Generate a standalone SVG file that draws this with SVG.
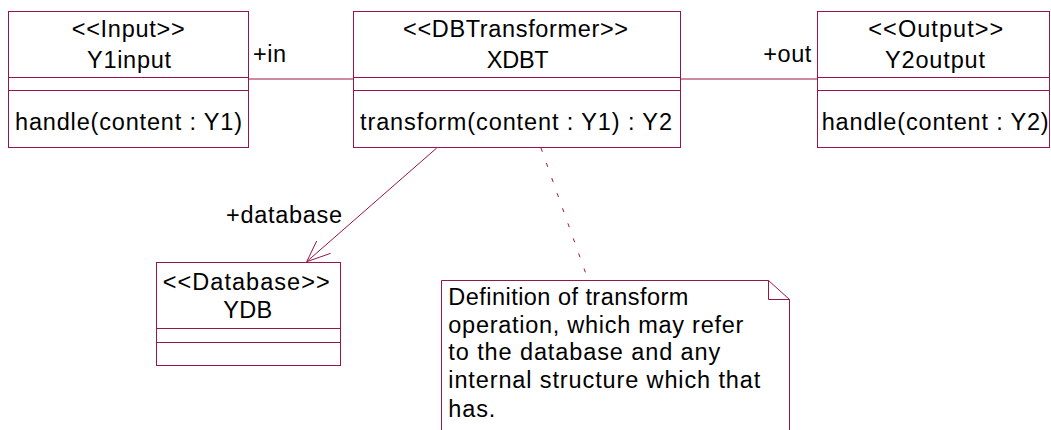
<svg xmlns="http://www.w3.org/2000/svg" width="1051" height="430" viewBox="0 0 1051 430">
<style>
.box{fill:#fff;stroke:#9a1545;stroke-width:1}
.ln{fill:none;stroke:#9a1545;stroke-width:1}
.dash{fill:none;stroke:#9a1545;stroke-width:1;stroke-dasharray:4 12}
text{font-family:"Liberation Sans",Arial,sans-serif;font-size:23.5px;fill:#000}
</style>
<rect width="1051" height="430" fill="#fff"/>
<g id="connectors">
<line class="ln" x1="248.5" y1="79" x2="353.5" y2="79"/>
<line class="ln" x1="680.5" y1="79" x2="817.5" y2="79"/>
<line class="ln" x1="436.7" y1="148" x2="306.7" y2="261.7"/>
<polyline class="ln" points="316.7,241 306.7,261.7 330.7,253.3"/>
<line class="dash" x1="541" y1="148" x2="588.3" y2="280.5"/>
<text x="253" y="62" textLength="33" lengthAdjust="spacing">+in</text>
<text x="763.3" y="62" textLength="48" lengthAdjust="spacing">+out</text>
<text x="226" y="223.3" textLength="116" lengthAdjust="spacing">+database</text>
</g>
<g id="Y1input">
<rect class="box" x="8.5" y="11.5" width="240" height="136"/>
<line class="ln" x1="8.5" y1="77.5" x2="248.5" y2="77.5"/>
<line class="ln" x1="8.5" y1="90.5" x2="248.5" y2="90.5"/>
<text x="71.7" y="37.3" textLength="113" lengthAdjust="spacing">&lt;&lt;Input&gt;&gt;</text>
<text x="87" y="67.7" textLength="84" lengthAdjust="spacing">Y1input</text>
<text x="15" y="129.5" textLength="227" lengthAdjust="spacing">handle(content : Y1)</text>
</g>
<g id="XDBT">
<rect class="box" x="353.5" y="11.5" width="327" height="136"/>
<line class="ln" x1="353.5" y1="77.5" x2="680.5" y2="77.5"/>
<line class="ln" x1="353.5" y1="90.5" x2="680.5" y2="90.5"/>
<text x="403" y="37.3" textLength="225" lengthAdjust="spacing">&lt;&lt;DBTransformer&gt;&gt;</text>
<text x="486.7" y="67.7" textLength="62" lengthAdjust="spacing">XDBT</text>
<text x="360" y="129.5" textLength="312" lengthAdjust="spacing">transform(content : Y1) : Y2</text>
</g>
<g id="Y2output">
<rect class="box" x="817.5" y="11.5" width="232" height="136"/>
<line class="ln" x1="817.5" y1="77.5" x2="1049.5" y2="77.5"/>
<line class="ln" x1="817.5" y1="90.5" x2="1049.5" y2="90.5"/>
<text x="868.3" y="37.3" textLength="135" lengthAdjust="spacing">&lt;&lt;Output&gt;&gt;</text>
<text x="885" y="67.7" textLength="100" lengthAdjust="spacing">Y2output</text>
<text x="821.7" y="129.5" textLength="227" lengthAdjust="spacing">handle(content : Y2)</text>
</g>
<g id="YDB">
<rect class="box" x="156.5" y="262.5" width="184" height="103"/>
<line class="ln" x1="156.5" y1="328.5" x2="340.5" y2="328.5"/>
<line class="ln" x1="156.5" y1="342.5" x2="340.5" y2="342.5"/>
<text x="162.7" y="290" textLength="167" lengthAdjust="spacing">&lt;&lt;Database&gt;&gt;</text>
<text x="223.3" y="318.3" textLength="49" lengthAdjust="spacing">YDB</text>
</g>
<g id="note">
<path class="box" d="M441.5,440 V280.5 H768.5 L789.5,299.5 V440"/>
<polyline class="ln" points="768.5,280.5 768.5,299.5 789.5,299.5"/>
<text x="448.3" y="305" textLength="240" lengthAdjust="spacing">Definition of transform</text>
<text x="448.3" y="332.7" textLength="295" lengthAdjust="spacing">operation, which may refer</text>
<text x="448.3" y="360" textLength="272" lengthAdjust="spacing">to the database and any</text>
<text x="448.3" y="388.3" textLength="312" lengthAdjust="spacing">internal structure which that</text>
<text x="448.3" y="416.7" textLength="47" lengthAdjust="spacing">has.</text>
</g>
</svg>
